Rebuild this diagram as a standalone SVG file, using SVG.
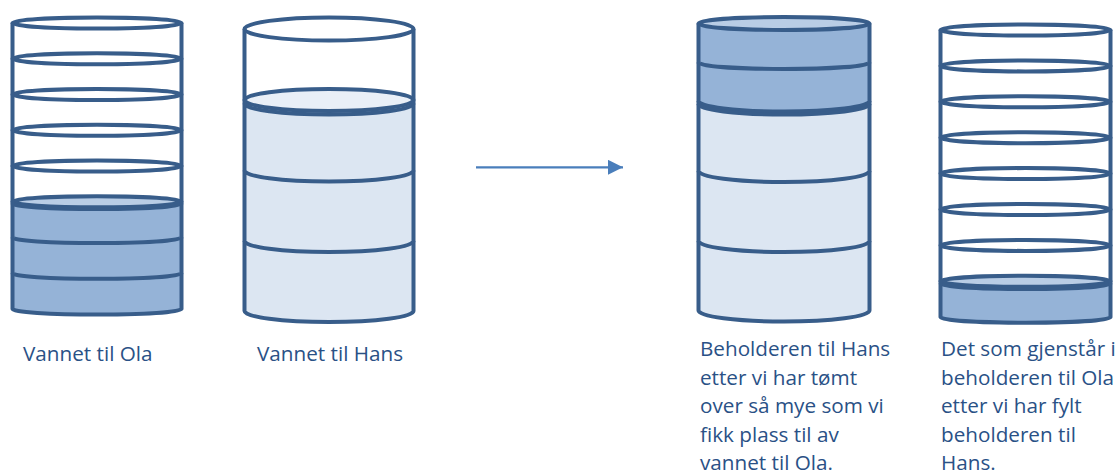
<svg xmlns="http://www.w3.org/2000/svg" width="1120" height="475" viewBox="0 0 1120 475">
  <defs>
    <style>
      .ln { fill: none; stroke: #385d8a; stroke-width: 4; }
      .white { fill: #ffffff; }
      .dark { fill: #95b3d7; }
      .darktop { fill: #b9cde5; stroke: #385d8a; stroke-width: 4; }
      .light { fill: #dce6f2; }
      .lighttop { fill: #e9eff7; stroke: #385d8a; stroke-width: 4; }
      .lbl { font-family: "Open Sans", "Liberation Sans", sans-serif; font-size: 20.7px; fill: #2a5186; }
      .arrow { stroke: #4a7ebb; stroke-width: 2.2; fill: none; }
    </style>
    <marker id="head" markerWidth="16" markerHeight="16" refX="15" refY="7.5" orient="auto" markerUnits="userSpaceOnUse">
      <path d="M0,0 L15,7.5 L0,15 Z" fill="#4a7ebb"/>
    </marker>
  </defs>

  <!-- Ola's water: eight stacked units, the lowest three filled -->
  <g id="ola-before">
    <path class="white" d="M12.5,23 A84.5,5.5 0 0 1 181.5,23 L181.5,309 A84.5,5.5 0 0 1 12.5,309 Z"/>
    <path class="dark" d="M12.5,201.75 A84.5,5.5 0 0 1 181.5,201.75 L181.5,309 A84.5,5.5 0 0 1 12.5,309 Z"/>
    <ellipse class="ln" cx="97" cy="23" rx="84.5" ry="5.5"/>
    <ellipse class="ln" cx="97" cy="58.75" rx="84.5" ry="5.5"/>
    <ellipse class="ln" cx="97" cy="94.5" rx="84.5" ry="5.5"/>
    <ellipse class="ln" cx="97" cy="130.25" rx="84.5" ry="5.5"/>
    <ellipse class="ln" cx="97" cy="166" rx="84.5" ry="5.5"/>
    <ellipse class="darktop" cx="97" cy="201.75" rx="84.5" ry="5.5"/>
    <path class="ln" d="M12.5,203.5 A84.5,5.5 0 0 0 181.5,203.5"/>
    <path class="ln" d="M12.5,237.5 A84.5,5.5 0 0 0 181.5,237.5"/>
    <path class="ln" d="M12.5,273.25 A84.5,5.5 0 0 0 181.5,273.25"/>
    <path class="ln" d="M12.5,23 L12.5,309 A84.5,5.5 0 0 0 181.5,309 L181.5,23"/>
  </g>

  <!-- Hans' container: one empty unit on top of three filled ones -->
  <g id="hans-before">
    <path class="white" d="M244.5,29 A84.5,11.5 0 0 1 413.5,29 L413.5,311 A84.5,11 0 0 1 244.5,311 Z"/>
    <path class="light" d="M244.5,100 A84.5,11 0 0 1 413.5,100 L413.5,311 A84.5,11 0 0 1 244.5,311 Z"/>
    <ellipse class="ln" cx="329" cy="29" rx="84.5" ry="11.5"/>
    <ellipse class="lighttop" cx="329" cy="100" rx="84.5" ry="11"/>
    <path class="ln" d="M244.5,103.5 A84.5,11 0 0 0 413.5,103.5"/>
    <path class="ln" d="M244.5,170.5 A84.5,11 0 0 0 413.5,170.5"/>
    <path class="ln" d="M244.5,241 A84.5,11 0 0 0 413.5,241"/>
    <path class="ln" d="M244.5,29 L244.5,311 A84.5,11 0 0 0 413.5,311 L413.5,29"/>
  </g>

  <g id="connectors">
    <line class="arrow" x1="476" y1="167.3" x2="623" y2="167.3" marker-end="url(#head)"/>
  </g>

  <!-- Hans' container after being topped up with two units from Ola -->
  <g id="hans-after">
    <path class="light" d="M698.5,101 A85.5,10.5 0 0 1 869.5,101 L869.5,310.5 A85.5,11 0 0 1 698.5,310.5 Z"/>
    <path class="dark" d="M698.5,23.5 A85.5,6.5 0 0 1 869.5,23.5 L869.5,101 A85.5,10.5 0 0 1 698.5,101 Z"/>
    <ellipse class="darktop" cx="784" cy="23.5" rx="85.5" ry="6.5"/>
    <path class="ln" d="M698.5,62.5 A85.5,6.5 0 0 0 869.5,62.5"/>
    <path class="ln" d="M698.5,101 A85.5,10.5 0 0 0 869.5,101"/>
    <path class="ln" d="M698.5,104 A85.5,10.5 0 0 0 869.5,104"/>
    <path class="ln" d="M698.5,171 A85.5,11 0 0 0 869.5,171"/>
    <path class="ln" d="M698.5,241 A85.5,11 0 0 0 869.5,241"/>
    <path class="ln" d="M698.5,23.5 L698.5,310.5 A85.5,11 0 0 0 869.5,310.5 L869.5,23.5"/>
  </g>

  <!-- What is left in Ola's container: one filled unit at the bottom -->
  <g id="ola-after">
    <path class="white" d="M940.5,30 A85,5.5 0 0 1 1110.5,30 L1110.5,317.2 A85,5.5 0 0 1 940.5,317.2 Z"/>
    <path class="dark" d="M940.5,281.3 A85,5.5 0 0 1 1110.5,281.3 L1110.5,317.2 A85,5.5 0 0 1 940.5,317.2 Z"/>
    <ellipse class="ln" cx="1025.5" cy="30" rx="85" ry="5.5"/>
    <ellipse class="ln" cx="1025.5" cy="65.9" rx="85" ry="5.5"/>
    <ellipse class="ln" cx="1025.5" cy="101.8" rx="85" ry="5.5"/>
    <ellipse class="ln" cx="1025.5" cy="137.7" rx="85" ry="5.5"/>
    <ellipse class="ln" cx="1025.5" cy="173.6" rx="85" ry="5.5"/>
    <ellipse class="ln" cx="1025.5" cy="209.5" rx="85" ry="5.5"/>
    <ellipse class="ln" cx="1025.5" cy="245.4" rx="85" ry="5.5"/>
    <ellipse class="darktop" cx="1025.5" cy="281.3" rx="85" ry="5.5"/>
    <path class="ln" d="M940.5,283.5 A85,5.5 0 0 0 1110.5,283.5"/>
    <path class="ln" d="M940.5,30 L940.5,317.2 A85,5.5 0 0 0 1110.5,317.2 L1110.5,30"/>
  </g>

  <g id="labels">
    <text class="lbl" x="23" y="361">Vannet til Ola</text>
    <text class="lbl" x="257" y="361">Vannet til Hans</text>
    <text class="lbl" x="700" y="356">
      <tspan x="700" y="356">Beholderen til Hans</tspan>
      <tspan x="700" y="384.5">etter vi har tømt</tspan>
      <tspan x="700" y="413">over så mye som vi</tspan>
      <tspan x="700" y="441.5">fikk plass til av</tspan>
      <tspan x="700" y="469.5">vannet til Ola.</tspan>
    </text>
    <text class="lbl" x="941" y="356">
      <tspan x="941" y="356">Det som gjenstår i</tspan>
      <tspan x="941" y="384.5">beholderen til Ola</tspan>
      <tspan x="941" y="413">etter vi har fylt</tspan>
      <tspan x="941" y="441.5">beholderen til</tspan>
      <tspan x="941" y="469.5">Hans.</tspan>
    </text>
  </g>
</svg>
